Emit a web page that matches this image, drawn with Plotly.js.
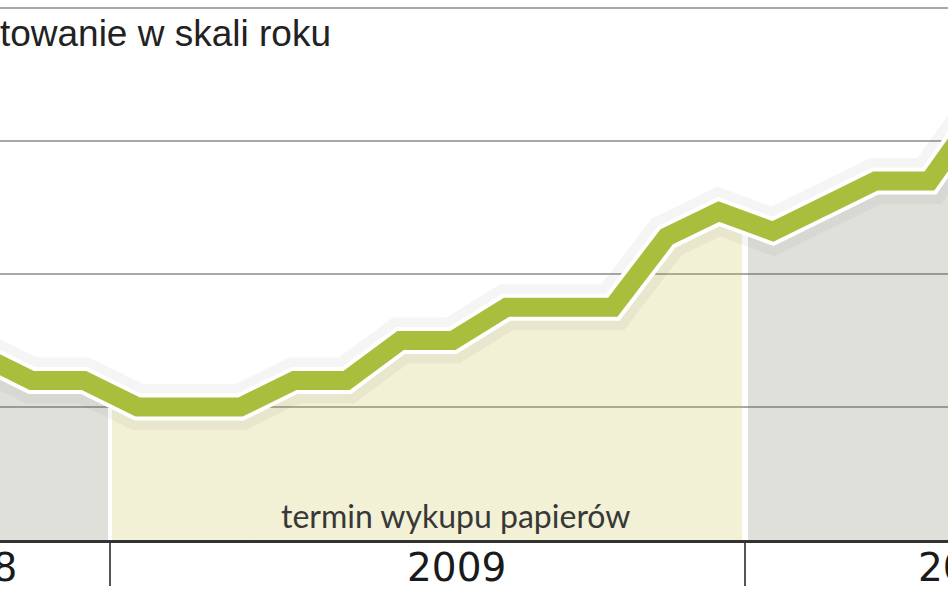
<!DOCTYPE html>
<html>
<head>
<meta charset="utf-8">
<script src="https://cdn.plot.ly/plotly-3.0.1.min.js"></script>
<style>
  html, body { margin: 0; padding: 0; background: #fff; }
  #chart { width: 948px; height: 593px; }
</style>
</head>
<body>
<div id="chart"></div>
<script>
// monthly readings, mid-month
const months = [
    '2008-10-17', '2008-11-17', '2008-12-17',
    '2009-01-17', '2009-02-17', '2009-03-17', '2009-04-17', '2009-05-17', '2009-06-17',
    '2009-07-17', '2009-08-17', '2009-09-17', '2009-10-17', '2009-11-17', '2009-12-17',
    '2010-01-17', '2010-02-17', '2010-03-17', '2010-04-17', '2010-05-17'];

const rate = [4.40, 4.20, 4.20,
    4.00, 4.00, 4.00, 4.20, 4.20, 4.50,
    4.50, 4.75, 4.75, 4.75, 5.28, 5.47,
    5.32, 5.50, 5.70, 5.70, 6.25];

const years = ['2008', '2009', '2010'];
const yearStarts = ['2009-01-01', '2010-01-01'];
const bandLabel = 'termin wykupu papierów';
const titleText = 'Oprocentowanie w skali roku';

// horizontal fill gradient: grey / yellow (buyback window) / grey, white seams at year change
const t0 = Date.parse(months[0]);
const t1 = Date.parse(months[months.length - 1]);
const frac = d => (Date.parse(d) - t0) / (t1 - t0);
const day = 86400000 / (t1 - t0);
const b1 = frac(yearStarts[0]);
const b2 = frac(yearStarts[1]);
const grey = 'rgba(100,100,72,0.2)';
const yellow = 'rgba(190,186,45,0.2)';
const gap = 'rgba(255,255,255,0)';
const eps = 1e-6;

const fillTrace = {
    x: months, y: rate,
    mode: 'none',
    fill: 'tozeroy',
    fillgradient: {
        type: 'horizontal',
        colorscale: [
            [0, grey], [b1 - 1.2 * day, grey],
            [b1 - 1.2 * day + eps, gap], [b1 + 1.2 * day, gap],
            [b1 + 1.2 * day + eps, yellow], [b2 - 1.5 * day, yellow],
            [b2 - 1.5 * day + eps, gap], [b2 + 1.5 * day, gap],
            [b2 + 1.5 * day + eps, grey], [1, grey],
        ],
    },
    hoverinfo: 'skip',
    showlegend: false,
};

const glowTrace = {
    x: months, y: rate,
    mode: 'lines',
    line: { color: 'rgba(80,80,100,0.06)', width: 46 },
    hoverinfo: 'skip',
    showlegend: false,
};

const outlineTrace = {
    x: months, y: rate,
    mode: 'lines',
    line: { color: '#ffffff', width: 27 },
    hoverinfo: 'skip',
    showlegend: false,
};

const rateTrace = {
    x: months, y: rate,
    mode: 'lines',
    line: { color: '#a9be3c', width: 19 },
    showlegend: false,
};

const layout = {
    width: 948,
    height: 593,
    margin: { l: 0, r: 0, t: 0, b: 53 },
    paper_bgcolor: '#ffffff',
    plot_bgcolor: '#ffffff',
    showlegend: false,
    xaxis: {
        type: 'date',
        range: ['2008-10-29 18:30', '2010-04-27 16:30'],
        showgrid: false,
        zeroline: false,
        showline: true,
        linecolor: '#333333',
        linewidth: 2.5,
        tickmode: 'array',
        tickvals: yearStarts,
        ticks: 'outside',
        ticklen: 43,
        tickwidth: 1.5,
        tickcolor: '#555555',
        showticklabels: false,
    },
    yaxis: {
        range: [3, 3 + 540 / 133],
        tick0: 0,
        dtick: 1,
        showgrid: true,
        gridcolor: '#a8a8a8',
        gridwidth: 1.5,
        zeroline: false,
        showline: false,
        showticklabels: false,
        ticks: '',
    },
    annotations: [
        {
            text: titleText, xref: 'paper', yref: 'paper',
            x: 333 / 948, y: (540 - 33) / 540, xanchor: 'right', yanchor: 'middle',
            showarrow: false,
            font: { family: 'Liberation Sans, Arial, sans-serif', size: 37, color: '#222222' },
        },
        {
            text: bandLabel, xref: 'paper', yref: 'paper',
            x: 455 / 948, y: (540 - 515) / 540, xanchor: 'center', yanchor: 'middle',
            showarrow: false,
            font: { family: 'Lato, sans-serif', size: 32, weight: 400, color: '#383838' },
        },
        {
            text: years[0], xref: 'paper', yref: 'paper',
            x: -33 / 948, y: (540 - 567) / 540, xanchor: 'center', yanchor: 'middle',
            showarrow: false,
            font: { family: 'DejaVu Sans, sans-serif', size: 39, color: '#1a1a1a' },
        },
        {
            text: years[1], xref: 'paper', yref: 'paper',
            x: 456 / 948, y: (540 - 567) / 540, xanchor: 'center', yanchor: 'middle',
            showarrow: false,
            font: { family: 'DejaVu Sans, sans-serif', size: 39, color: '#1a1a1a' },
        },
        {
            text: years[2], xref: 'paper', yref: 'paper',
            x: 967 / 948, y: (540 - 567) / 540, xanchor: 'center', yanchor: 'middle',
            showarrow: false,
            font: { family: 'DejaVu Sans, sans-serif', size: 39, color: '#1a1a1a' },
        },
    ],
};

Plotly.newPlot('chart', [fillTrace, glowTrace, outlineTrace, rateTrace], layout,
    { displayModeBar: false, staticPlot: true });
</script>
</body>
</html>
